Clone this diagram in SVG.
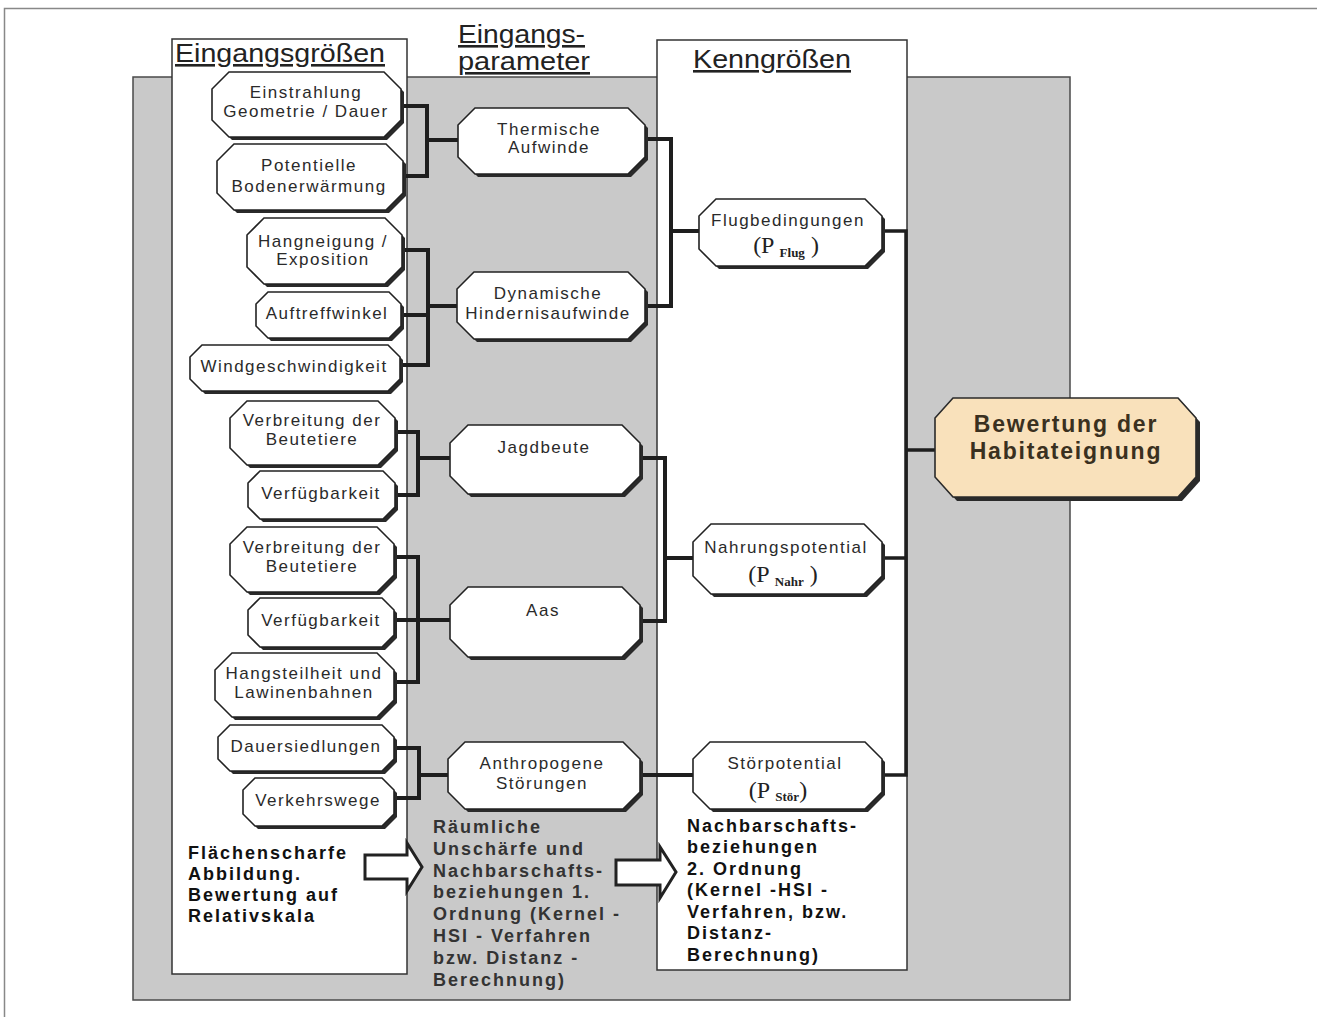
<svg xmlns="http://www.w3.org/2000/svg" width="1317" height="1017" viewBox="0 0 1317 1017">
<style>
.bg{fill:#ffffff}
.gray{fill:#c9c9c9;stroke:#4a4a4a;stroke-width:1.5}
.col{fill:#ffffff;stroke:#333;stroke-width:1.5}
.title{font-family:"Liberation Sans",Arial,sans-serif;font-size:26px;fill:#222;text-decoration:underline}
.shd{fill:#2a2a2a}
.nd{fill:#ffffff;stroke:#222;stroke-width:1.6}
.ndo{fill:#f9e1bb;stroke:#2a2a2a;stroke-width:1.6}
.t{font-family:"Liberation Sans",Arial,sans-serif;font-size:17px;letter-spacing:1.5px;fill:#2a2a2a;text-anchor:middle}
.p{font-family:"Liberation Serif","Times New Roman",serif;font-size:24px;fill:#222;text-anchor:middle}
.sub{font-size:13px;font-weight:bold}
.big{font-family:"Liberation Sans",Arial,sans-serif;font-size:23px;font-weight:bold;letter-spacing:1.8px;fill:#3a3020;text-anchor:middle}
.note{font-family:"Liberation Sans",Arial,sans-serif;font-size:18px;font-weight:bold;letter-spacing:2px;fill:#111}
.note2{font-family:"Liberation Sans",Arial,sans-serif;font-size:18px;font-weight:bold;letter-spacing:2px;fill:#333}
.cn{fill:none;stroke:#1e1e1e;stroke-width:4;stroke-linecap:square}
.arr{fill:#ffffff;stroke:#222;stroke-width:3;stroke-linejoin:miter}
</style>
<rect class="bg" x="0" y="0" width="1317" height="1017"/>
<path d="M4.5,1017 V8.5 H1317" fill="none" stroke="#888" stroke-width="1.5"/>

<g id="background">
<rect class="gray" x="133" y="77" width="937" height="923"/>
<rect class="col" x="172" y="39" width="235" height="935"/>
<rect class="col" x="657" y="40" width="250" height="930"/>
</g>

<g id="titles">
<text class="title" x="175" y="62" textLength="210" lengthAdjust="spacingAndGlyphs">Eingangsgrößen</text>
<text class="title" x="458" y="43" textLength="127" lengthAdjust="spacingAndGlyphs">Eingangs-</text>
<text class="title" x="458" y="70" textLength="132" lengthAdjust="spacingAndGlyphs">parameter</text>
<text class="title" x="693" y="68" textLength="158" lengthAdjust="spacingAndGlyphs">Kenngrößen</text>
</g>

<g id="connectors">
<path class="cn" d="M401,106 H427 V176 H403 M427,140 H458"/>
<path class="cn" d="M402,250 H428 V365 H400 M401,315 H428 M428,306 H457"/>
<path class="cn" d="M395,432 H418 V495 H395 M418,458 H450"/>
<path class="cn" d="M394,557 H418 V682 H394 M394,620 H450"/>
<path class="cn" d="M394,748 H419 V798 H394 M419,775 H448"/>
<path class="cn" d="M645,139 H671 V306 H645 M671,231 H699"/>
<path class="cn" d="M640,458 H665 V621 H640 M665,558 H693"/>
<path class="cn" d="M640,775 H693"/>
<path class="cn" d="M882,231 H906 V775 H882 M882,558 H906 M906,450 H935" style="stroke-width:3.5"/>
<polygon class="arr" points="365,855 407,855 407,843 422,867 407,891 407,879 365,879"/>
<polygon class="arr" points="616,860 660,860 660,847 676,872 660,898 660,885 616,885"/>
</g>

<g id="n1">
<polygon class="shd" transform="translate(3,3)" points="229,72 384,72 401,89 401,120 384,137 229,137 212,120 212,89"/>
<polygon class="nd" points="229,72 384,72 401,89 401,120 384,137 229,137 212,120 212,89"/>
<text class="t" x="306" y="98">Einstrahlung</text>
<text class="t" x="306" y="117">Geometrie / Dauer</text>
</g>
<g id="n2">
<polygon class="shd" transform="translate(3,3)" points="234,144 386,144 403,161 403,193 386,210 234,210 217,193 217,161"/>
<polygon class="nd" points="234,144 386,144 403,161 403,193 386,210 234,210 217,193 217,161"/>
<text class="t" x="309" y="171">Potentielle</text>
<text class="t" x="309" y="192">Bodenerwärmung</text>
</g>
<g id="n3">
<polygon class="shd" transform="translate(3,3)" points="264,218 385,218 402,235 402,267 385,284 264,284 247,267 247,235"/>
<polygon class="nd" points="264,218 385,218 402,235 402,267 385,284 264,284 247,267 247,235"/>
<text class="t" x="323" y="247">Hangneigung /</text>
<text class="t" x="323" y="265">Exposition</text>
</g>
<g id="n4">
<polygon class="shd" transform="translate(3,3)" points="268,292 389,292 401,304 401,326 389,338 268,338 256,326 256,304"/>
<polygon class="nd" points="268,292 389,292 401,304 401,326 389,338 268,338 256,326 256,304"/>
<text class="t" x="327" y="319">Auftreffwinkel</text>
</g>
<g id="n5">
<polygon class="shd" transform="translate(3,3)" points="202,345 388,345 400,357 400,379 388,391 202,391 190,379 190,357"/>
<polygon class="nd" points="202,345 388,345 400,357 400,379 388,391 202,391 190,379 190,357"/>
<text class="t" x="294" y="372">Windgeschwindigkeit</text>
</g>
<g id="n6">
<polygon class="shd" transform="translate(3,3)" points="247,401 378,401 395,418 395,448 378,465 247,465 230,448 230,418"/>
<polygon class="nd" points="247,401 378,401 395,418 395,448 378,465 247,465 230,448 230,418"/>
<text class="t" x="312" y="426">Verbreitung der</text>
<text class="t" x="312" y="445">Beutetiere</text>
</g>
<g id="n7">
<polygon class="shd" transform="translate(3,3)" points="260,471 383,471 395,483 395,507 383,519 260,519 248,507 248,483"/>
<polygon class="nd" points="260,471 383,471 395,483 395,507 383,519 260,519 248,507 248,483"/>
<text class="t" x="321" y="499">Verfügbarkeit</text>
</g>
<g id="n8">
<polygon class="shd" transform="translate(3,3)" points="247,527 377,527 394,544 394,575 377,592 247,592 230,575 230,544"/>
<polygon class="nd" points="247,527 377,527 394,544 394,575 377,592 247,592 230,575 230,544"/>
<text class="t" x="312" y="553">Verbreitung der</text>
<text class="t" x="312" y="572">Beutetiere</text>
</g>
<g id="n9">
<polygon class="shd" transform="translate(3,3)" points="260,598 382,598 394,610 394,635 382,647 260,647 248,635 248,610"/>
<polygon class="nd" points="260,598 382,598 394,610 394,635 382,647 260,647 248,635 248,610"/>
<text class="t" x="321" y="626">Verfügbarkeit</text>
</g>
<g id="n10">
<polygon class="shd" transform="translate(3,3)" points="232,653 377,653 394,670 394,700 377,717 232,717 215,700 215,670"/>
<polygon class="nd" points="232,653 377,653 394,670 394,700 377,717 232,717 215,700 215,670"/>
<text class="t" x="304" y="679">Hangsteilheit und</text>
<text class="t" x="304" y="698">Lawinenbahnen</text>
</g>
<g id="n11">
<polygon class="shd" transform="translate(3,3)" points="230,725 382,725 394,737 394,759 382,771 230,771 218,759 218,737"/>
<polygon class="nd" points="230,725 382,725 394,737 394,759 382,771 230,771 218,759 218,737"/>
<text class="t" x="306" y="752">Dauersiedlungen</text>
</g>
<g id="n12">
<polygon class="shd" transform="translate(3,3)" points="255,778 382,778 394,790 394,814 382,826 255,826 243,814 243,790"/>
<polygon class="nd" points="255,778 382,778 394,790 394,814 382,826 255,826 243,814 243,790"/>
<text class="t" x="318" y="806">Verkehrswege</text>
</g>

<g id="m1">
<polygon class="shd" transform="translate(3,3)" points="475,108 628,108 645,125 645,157 628,174 475,174 458,157 458,125"/>
<polygon class="nd" points="475,108 628,108 645,125 645,157 628,174 475,174 458,157 458,125"/>
<text class="t" x="549" y="135">Thermische</text>
<text class="t" x="549" y="153">Aufwinde</text>
</g>
<g id="m2">
<polygon class="shd" transform="translate(3,3)" points="474,272 628,272 645,289 645,322 628,339 474,339 457,322 457,289"/>
<polygon class="nd" points="474,272 628,272 645,289 645,322 628,339 474,339 457,322 457,289"/>
<text class="t" x="548" y="299">Dynamische</text>
<text class="t" x="548" y="319">Hindernisaufwinde</text>
</g>
<g id="m3">
<polygon class="shd" transform="translate(3,3)" points="468,425 622,425 640,443 640,476 622,494 468,494 450,476 450,443"/>
<polygon class="nd" points="468,425 622,425 640,443 640,476 622,494 468,494 450,476 450,443"/>
<text class="t" x="544" y="453">Jagdbeute</text>
</g>
<g id="m4">
<polygon class="shd" transform="translate(3,3)" points="468,587 622,587 640,605 640,639 622,657 468,657 450,639 450,605"/>
<polygon class="nd" points="468,587 622,587 640,605 640,639 622,657 468,657 450,639 450,605"/>
<text class="t" x="543" y="616">Aas</text>
</g>
<g id="m5">
<polygon class="shd" transform="translate(3,3)" points="465,742 623,742 640,759 640,792 623,809 465,809 448,792 448,759"/>
<polygon class="nd" points="465,742 623,742 640,759 640,792 623,809 465,809 448,792 448,759"/>
<text class="t" x="542" y="769">Anthropogene</text>
<text class="t" x="542" y="789">Störungen</text>
</g>

<g id="k1">
<polygon class="shd" transform="translate(3,3)" points="716,199 865,199 882,216 882,249 865,266 716,266 699,249 699,216"/>
<polygon class="nd" points="716,199 865,199 882,216 882,249 865,266 716,266 699,249 699,216"/>
<text class="t" x="788" y="226">Flugbedingungen</text>
<text class="p" x="786" y="253">(P <tspan class="sub" dy="4">Flug</tspan><tspan dy="-4"> )</tspan></text>
</g>
<g id="k2">
<polygon class="shd" transform="translate(3,3)" points="711,524 864,524 882,542 882,576 864,594 711,594 693,576 693,542"/>
<polygon class="nd" points="711,524 864,524 882,542 882,576 864,594 711,594 693,576 693,542"/>
<text class="t" x="786" y="553">Nahrungspotential</text>
<text class="p" x="783" y="582">(P <tspan class="sub" dy="4">Nahr</tspan><tspan dy="-4"> )</tspan></text>
</g>
<g id="k3">
<polygon class="shd" transform="translate(3,3)" points="710,742 865,742 882,759 882,792 865,809 710,809 693,792 693,759"/>
<polygon class="nd" points="710,742 865,742 882,759 882,792 865,809 710,809 693,792 693,759"/>
<text class="t" x="785" y="769">Störpotential</text>
<text class="p" x="778" y="798">(P <tspan class="sub" dy="3">Stör</tspan><tspan dy="-3">)</tspan></text>
</g>

<g id="result">
<polygon class="shd" transform="translate(4,4)" points="953,398 1178,398 1196,418 1196,477 1178,497 953,497 935,477 935,418"/>
<polygon class="ndo" points="953,398 1178,398 1196,418 1196,477 1178,497 953,497 935,477 935,418"/>
<text class="big" x="1066" y="432">Bewertung der</text>
<text class="big" x="1066" y="459">Habitateignung</text>
</g>

<g id="notes">
<text class="note" x="188" y="859">Flächenscharfe</text>
<text class="note" x="188" y="880">Abbildung.</text>
<text class="note" x="188" y="901">Bewertung auf</text>
<text class="note" x="188" y="922">Relativskala</text>

<text class="note2" x="433" y="833">Räumliche</text>
<text class="note2" x="433" y="855">Unschärfe und</text>
<text class="note2" x="433" y="877">Nachbarschafts-</text>
<text class="note2" x="433" y="898">beziehungen 1.</text>
<text class="note2" x="433" y="920">Ordnung (Kernel -</text>
<text class="note2" x="433" y="942">HSI - Verfahren</text>
<text class="note2" x="433" y="964">bzw. Distanz -</text>
<text class="note2" x="433" y="986">Berechnung)</text>

<text class="note" x="687" y="832">Nachbarschafts-</text>
<text class="note" x="687" y="853">beziehungen</text>
<text class="note" x="687" y="875">2.  Ordnung</text>
<text class="note" x="687" y="896">(Kernel -HSI -</text>
<text class="note" x="687" y="918">Verfahren, bzw.</text>
<text class="note" x="687" y="939">Distanz-</text>
<text class="note" x="687" y="961">Berechnung)</text>
</g>
</svg>
